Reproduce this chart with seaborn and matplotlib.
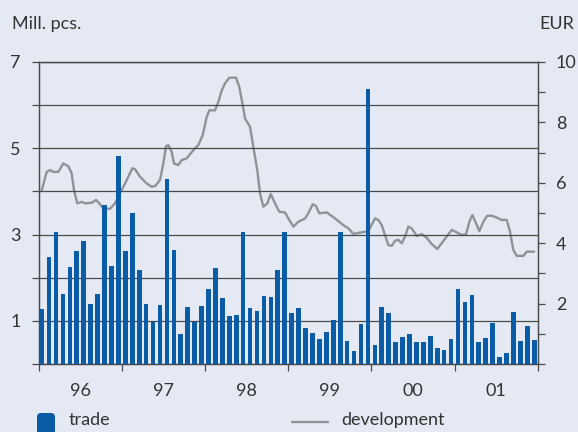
import numpy as np
import pandas as pd
import matplotlib
matplotlib.use("Agg")
import matplotlib.pyplot as plt
import seaborn as sns
from matplotlib.patches import FancyBboxPatch
from matplotlib.lines import Line2D

# Year labels along the time axis
years = ["96", "97", "98", "99", "00", "01"]

# Monthly trade volume, million pieces (Jan 1996 - Dec 2001)
trade = [
    1.27, 2.48, 3.05, 1.63, 2.25, 2.63, 2.85, 1.38, 1.62, 3.69, 2.27, 4.81,
    2.61, 3.50, 2.18, 1.40, 0.97, 1.37, 4.29, 2.64, 0.69, 1.33, 0.97, 1.34,
    1.74, 2.22, 1.52, 1.12, 1.14, 3.07, 1.29, 1.23, 1.58, 1.55, 2.17, 3.07,
    1.19, 1.30, 0.83, 0.71, 0.58, 0.74, 1.02, 3.07, 0.53, 0.29, 0.92, 6.37,
    0.44, 1.31, 1.19, 0.51, 0.63, 0.69, 0.51, 0.51, 0.65, 0.38, 0.32, 0.58,
    1.73, 1.44, 1.60, 0.50, 0.60, 0.96, 0.16, 0.26, 1.20, 0.54, 0.87, 0.56,
]

# Price development in EUR, sampled at fractional months since Jan 1996
dev_month = [
    0.43, 1.15, 1.63, 2.11, 2.83, 3.55, 4.27, 4.76, 5.09, 5.57, 6.20, 6.68,
    7.65, 8.27, 8.74, 9.32, 10.29, 11.01, 11.73, 12.70, 13.51, 13.90, 14.62,
    15.58, 16.31, 16.78, 17.50, 17.98, 18.37, 18.70, 19.19, 19.52, 20.14,
    20.63, 21.36, 22.31, 23.03, 23.67, 24.24, 24.62, 25.44, 25.92, 26.41,
    26.88, 27.50, 28.47, 28.95, 29.44, 29.77, 30.49, 30.97, 31.54, 31.93,
    32.41, 32.99, 33.48, 34.10, 34.72, 35.54, 36.02, 36.74, 37.46, 38.43,
    38.90, 39.54, 40.01, 40.49, 41.56, 42.76, 43.95, 44.68, 45.40, 46.36,
    47.56, 48.53, 49.00, 49.49, 49.97, 50.45, 50.94, 51.41, 51.89, 52.38,
    52.86, 53.33, 53.82, 54.55, 55.27, 55.99, 56.71, 57.52, 58.15, 58.87,
    59.60, 60.32, 61.04, 61.66, 62.14, 62.57, 63.10, 63.58, 64.16, 64.73,
    65.37, 66.09, 66.81, 67.53, 68.01, 68.48, 68.97, 69.93, 70.42, 71.47,
]
dev_eur = [
    5.74, 6.36, 6.42, 6.36, 6.36, 6.64, 6.55, 6.31, 5.76, 5.32, 5.37, 5.32,
    5.34, 5.43, 5.32, 5.15, 5.14, 5.32, 5.65, 6.09, 6.48, 6.45, 6.20,
    5.98, 5.87, 5.89, 6.09, 6.64, 7.21, 7.25, 7.03, 6.64, 6.59,
    6.75, 6.81, 7.08, 7.25, 7.58, 8.18, 8.40, 8.40, 8.68, 9.06,
    9.29, 9.48, 9.48, 9.17, 8.57, 8.13, 7.85, 7.19, 6.42, 5.65,
    5.21, 5.32, 5.63, 5.32, 5.04, 5.02, 4.82, 4.55, 4.71, 4.82,
    4.99, 5.29, 5.23, 4.99, 5.02, 4.82, 4.60, 4.49, 4.31, 4.35,
    4.40, 4.82, 4.77, 4.60, 4.27, 3.94, 3.91, 4.08, 4.11, 4.00,
    4.22, 4.55, 4.49, 4.24, 4.30, 4.18, 3.97, 3.81, 4.00, 4.22,
    4.44, 4.36, 4.27, 4.30, 4.71, 4.93, 4.66, 4.40, 4.71, 4.91,
    4.91, 4.85, 4.77, 4.77, 4.38, 3.78, 3.58, 3.58, 3.72, 3.72,
]

BG = "#e4e9f4"
BLUE = "#0b5ca6"
GREY = "#8f9397"
INK = "#333333"
RULE = "#4a4a4a"
FS = 13

sns.set_theme(style="white")
plt.rcParams["font.family"] = ["Lato", "DejaVu Sans"]

W, H = 578, 432
fig = plt.figure(figsize=(W / 100, H / 100), dpi=100, facecolor=BG)
ax = fig.add_axes([38.7 / W, 1 - 364 / H, (537.7 - 38.7) / W, (364 - 62) / H])
ax2 = ax.twinx()

# Bars on the left (Mill. pcs.) axis, drawn above the price line
bars = pd.DataFrame({"month": np.arange(len(trade)) + 0.5, "trade": trade})
sns.barplot(data=bars, x="month", y="trade", native_scale=True, color=BLUE,
            saturation=1, width=0.67, errorbar=None, ax=ax, zorder=3,
            linewidth=0)

line = pd.DataFrame({"month": dev_month, "eur": dev_eur})
sns.lineplot(data=line, x="month", y="eur", ax=ax2, color=GREY, lw=1.7,
             sort=False, estimator=None)

ax.set_zorder(ax2.get_zorder() + 1)
ax.patch.set_visible(False)
ax2.patch.set_visible(False)

n_months = 12 * len(years)
for a in (ax, ax2):
    a.set_xlim(0, n_months)
    a.set_xlabel("")
    a.set_ylabel("")
    for s in a.spines.values():
        s.set_visible(True)
        s.set_color(RULE)
        s.set_linewidth(0.9)

# Left scale: grid at every integer, labels on odd values
ax.set_ylim(0, 7)
ax.set_yticks(range(0, 8))
ax.set_yticklabels(["" if v % 2 == 0 else str(v) for v in range(0, 8)])
ax.yaxis.grid(True, color=RULE, lw=0.9)
ax.xaxis.grid(False)
ax.set_axisbelow(True)
ax.tick_params(axis="y", which="major", left=True, direction="out", length=5,
               width=0.9, color=RULE, labelsize=FS, labelcolor=INK, pad=8)

# Right scale: EUR
ax2.set_ylim(0, 10)
ax2.set_yticks(range(0, 11))
ax2.set_yticklabels(["" if (v % 2 or v == 0) else str(v) for v in range(0, 11)])
ax2.tick_params(axis="y", right=True, direction="out", length=5, width=0.9,
                color=RULE, labelsize=FS, labelcolor=INK, pad=8)
ax2.grid(False)

# Year boundaries as ticks, year labels centred in between
ax.set_xticks(np.arange(0, n_months + 1, 12))
ax.set_xticklabels([])
ax.set_xticks(np.arange(6, n_months, 12), minor=True)
ax.set_xticklabels(years, minor=True)
ax.tick_params(axis="x", which="major", bottom=True, direction="out",
               length=5, width=0.9, color=RULE)
ax.tick_params(axis="x", which="minor", bottom=True, length=0, pad=14,
               labelsize=FS, labelcolor=INK)
ax2.tick_params(axis="x", bottom=False, labelbottom=False)

# Unit captions
fig.text(12 / W, 1 - 24 / H, "Mill. pcs.", ha="left", va="center",
         fontsize=FS, color=INK)
fig.text(574 / W, 1 - 24 / H, "EUR", ha="right", va="center",
         fontsize=FS, color=INK)

# Legend along the bottom edge
fig.add_artist(FancyBboxPatch((37, -8), 18, 27,
                              boxstyle="round,pad=0,rounding_size=4",
                              transform=None, facecolor=BLUE, edgecolor="none"))
fig.text(69 / W, 4 / H, "trade", ha="left", va="bottom", fontsize=FS,
         color=INK)
fig.add_artist(Line2D([292, 328], [10, 10], transform=None, color=GREY,
                      lw=1.7))
fig.text(341 / W, 4 / H, "development", ha="left", va="bottom",
         fontsize=FS, color=INK)

fig.savefig("out.png", dpi=100, facecolor=BG)
